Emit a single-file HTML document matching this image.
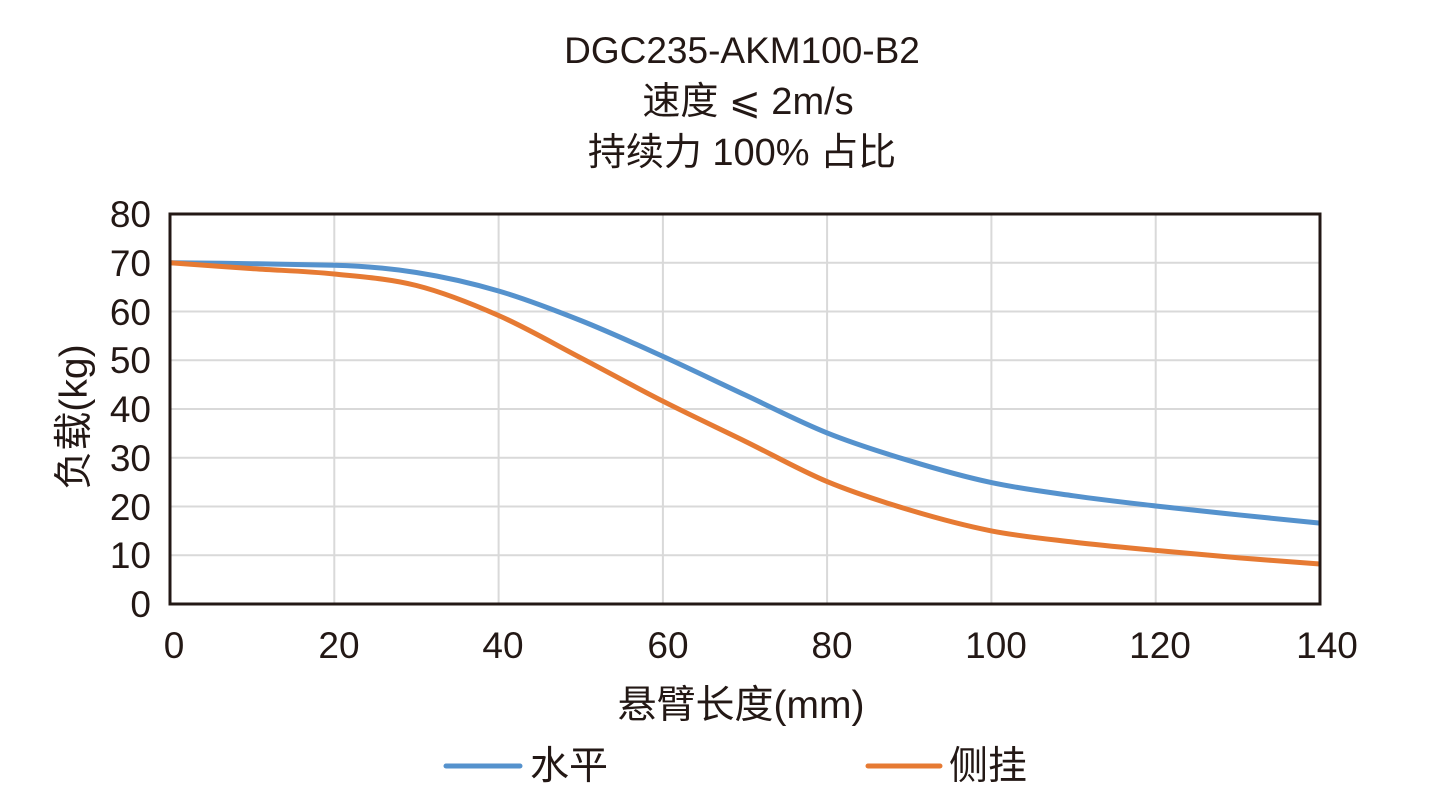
<!DOCTYPE html>
<html>
<head>
<meta charset="utf-8">
<style>
  html, body { margin: 0; padding: 0; background: #ffffff; }
  svg { display: block; }
  text { font-family: "Liberation Sans", "Noto Sans CJK SC", sans-serif; fill: #231815; }
</style>
</head>
<body>
<svg width="1438" height="812" viewBox="0 0 1438 812" xmlns="http://www.w3.org/2000/svg">
  <rect x="0" y="0" width="1438" height="812" fill="#ffffff"/>

  <!-- Title -->
  <text x="742" y="63" font-size="37" text-anchor="middle">DGC235-AKM100-B2</text>
  <text x="748" y="114" font-size="38" text-anchor="middle">速度 <tspan font-family="DejaVu Sans, sans-serif" font-size="38">⩽</tspan> 2m/s</text>
  <text x="742" y="165" font-size="38" text-anchor="middle">持续力 100% 占比</text>

  <!-- Gridlines -->
  <g stroke="#d9d9d9" stroke-width="2">
    <line x1="170" y1="262.75" x2="1320" y2="262.75"/>
    <line x1="170" y1="311.5" x2="1320" y2="311.5"/>
    <line x1="170" y1="360.25" x2="1320" y2="360.25"/>
    <line x1="170" y1="409" x2="1320" y2="409"/>
    <line x1="170" y1="457.75" x2="1320" y2="457.75"/>
    <line x1="170" y1="506.5" x2="1320" y2="506.5"/>
    <line x1="170" y1="555.25" x2="1320" y2="555.25"/>
    <line x1="334.3" y1="214" x2="334.3" y2="604"/>
    <line x1="498.6" y1="214" x2="498.6" y2="604"/>
    <line x1="662.9" y1="214" x2="662.9" y2="604"/>
    <line x1="827.1" y1="214" x2="827.1" y2="604"/>
    <line x1="991.4" y1="214" x2="991.4" y2="604"/>
    <line x1="1155.7" y1="214" x2="1155.7" y2="604"/>
  </g>

  <!-- Series: 水平 (blue) -->
  <path fill="none" stroke="#5592CD" stroke-width="5" stroke-linejoin="round"
    d="M170,262.75
       C183.7,262.91 224.7,263.29 252.1,263.7
       C279.5,264.11 306.9,264.5 334.3,265.2
       C361.7,265.9 389.0,268.2 416.4,272.5
       C443.8,276.8 471.2,283 498.6,291
       C526.0,299 553.3,309.61 580.7,320.5
       C608.1,331.39 635.5,343.95 662.9,356.35
       C690.3,368.75 717.6,382.14 745,394.9
       C772.4,407.66 799.7,421.93 827.1,432.9
       C854.5,443.87 881.9,452.42 909.3,460.7
       C936.7,468.98 964.0,476.75 991.4,482.6
       C1018.8,488.45 1046.2,491.9 1073.6,495.8
       C1101.0,499.7 1128.3,502.83 1155.7,506.0
       C1183.1,509.17 1210.5,511.95 1237.9,514.8
       C1265.3,517.65 1306.3,521.72 1320,523.1"/>

  <!-- Series: 侧挂 (orange) -->
  <path fill="none" stroke="#E67A33" stroke-width="5" stroke-linejoin="round"
    d="M170,262.75
       C183.7,263.73 224.7,266.73 252.1,268.6
       C279.5,270.48 306.9,271.18 334.3,274.0
       C361.7,276.82 389.0,278.58 416.4,285.5
       C443.8,292.42 471.2,303.45 498.6,315.5
       C526.0,327.55 553.3,343.52 580.7,357.8
       C608.1,372.08 635.5,387.3 662.9,401.2
       C690.3,415.1 717.6,427.8 745,441.2
       C772.4,454.6 799.7,470.15 827.1,481.6
       C854.5,493.05 881.9,501.68 909.3,509.9
       C936.7,518.12 964.0,525.53 991.4,530.9
       C1018.8,536.27 1046.2,538.85 1073.6,542.1
       C1101.0,545.35 1128.3,547.8 1155.7,550.4
       C1183.1,553.0 1210.5,555.43 1237.9,557.7
       C1265.3,559.97 1306.3,562.95 1320,564.0"/>

  <!-- Plot border -->
  <rect x="170" y="214" width="1150" height="390" fill="none" stroke="#231815" stroke-width="3"/>

  <!-- Y tick labels -->
  <g font-size="37" text-anchor="end">
    <text x="151" y="227">80</text>
    <text x="151" y="276">70</text>
    <text x="151" y="325">60</text>
    <text x="151" y="373">50</text>
    <text x="151" y="422">40</text>
    <text x="151" y="471">30</text>
    <text x="151" y="520">20</text>
    <text x="151" y="568">10</text>
    <text x="151" y="617">0</text>
  </g>

  <!-- X tick labels -->
  <g font-size="37" text-anchor="middle">
    <text x="174" y="658">0</text>
    <text x="339" y="658">20</text>
    <text x="503" y="658">40</text>
    <text x="668" y="658">60</text>
    <text x="832" y="658">80</text>
    <text x="996" y="658">100</text>
    <text x="1160" y="658">120</text>
    <text x="1327" y="658">140</text>
  </g>

  <!-- Axis titles -->
  <text x="741" y="718" font-size="39" text-anchor="middle">悬臂长度(mm)</text>
  <text x="0" y="0" font-size="39" text-anchor="middle" transform="translate(87,417) rotate(-90)">负载(kg)</text>

  <!-- Legend -->
  <line x1="446" y1="766" x2="520" y2="766" stroke="#5592CD" stroke-width="5" stroke-linecap="round"/>
  <text x="530" y="779" font-size="39">水平</text>
  <line x1="868" y1="766" x2="940" y2="766" stroke="#E67A33" stroke-width="5" stroke-linecap="round"/>
  <text x="949" y="779" font-size="39">侧挂</text>
</svg>
</body>
</html>
